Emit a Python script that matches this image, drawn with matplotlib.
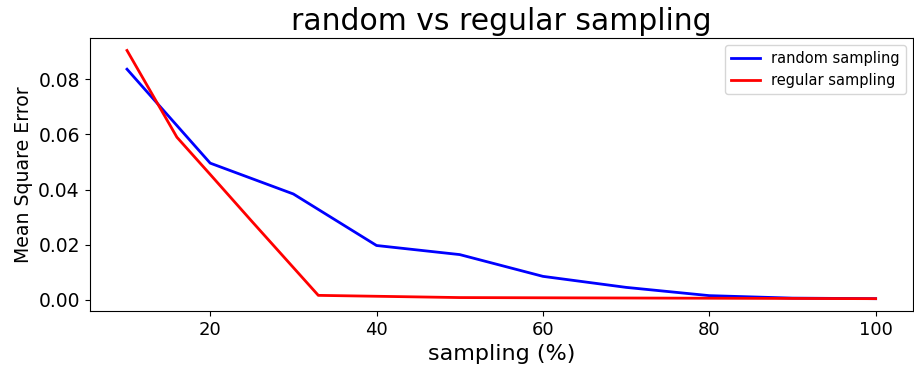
import matplotlib
matplotlib.use('Agg')
import matplotlib.pyplot as plt

# ── Datos ───────────────────────────────────────────────────────────────────
random_x   = [10, 20, 30, 40, 50, 60, 70, 80, 90, 100]
random_mse = [0.0837, 0.0496, 0.0384, 0.0197, 0.0164, 0.0085, 0.0045, 0.0015, 0.0006, 0.0004]

regular_x   = [10, 16, 20, 25, 33, 50, 100]
regular_mse = [0.0905, 0.059, 0.0455, 0.0285, 0.0016, 0.0008, 0.0004]

fig, ax = plt.subplots(figsize=(9.14, 3.73), dpi=100)
fig.subplots_adjust(left=0.098, right=0.999, top=0.898, bottom=0.166)

ax.plot(random_x, random_mse, color='blue', linewidth=2, label='random sampling')
ax.plot(regular_x, regular_mse, color='red', linewidth=2, label='regular sampling')

ax.set_title('random vs regular sampling', fontsize=21.5)
ax.set_xlabel('sampling (%)', fontsize=16)
ax.set_ylabel('Mean Square Error', fontsize=13.6)
ax.tick_params(axis='x', labelsize=13)
ax.tick_params(axis='y', labelsize=13.5)
ax.legend(fontsize=10.5, loc='upper right')

plt.savefig('out.png', dpi=100)
